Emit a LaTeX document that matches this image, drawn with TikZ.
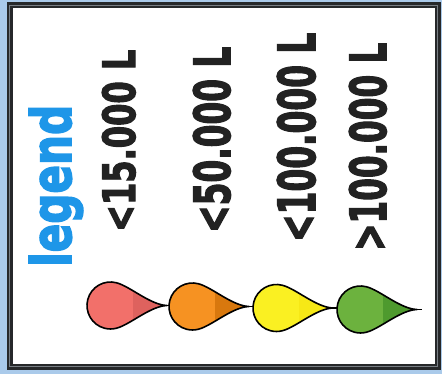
\documentclass[tikz,border=0pt]{standalone}
\usepackage{fontspec}
\setmainfont{DejaVu Sans}
\newfontfamily\heavyfont{DejaVu Sans}[BoldFeatures={FakeBold=3}]
\usepackage{graphicx}
\usepackage{xcolor}
\usepackage{tikz}
\definecolor{sheetblue}{RGB}{170, 202, 234}
\definecolor{framedark}{RGB}{38, 40, 42}
\definecolor{framemid}{RGB}{120, 126, 132}
\definecolor{legendblue}{RGB}{30, 150, 232}
\definecolor{inkgray}{RGB}{34, 34, 34}
\definecolor{pinkfill}{RGB}{242, 112, 106}
\definecolor{pinkdark}{RGB}{222, 98, 94}
\definecolor{orangefill}{RGB}{246, 146, 34}
\definecolor{orangedark}{RGB}{216, 120, 14}
\definecolor{yellowfill}{RGB}{250, 240, 34}
\definecolor{yellowdark}{RGB}{246, 232, 22}
\definecolor{greenfill}{RGB}{108, 178, 62}
\definecolor{greendark}{RGB}{78, 154, 46}

\begin{document}
\begin{tikzpicture}[
  x=1pt, y=1pt,
  qty/.style={
    rotate=90, anchor=base west, inner sep=0pt,
    text=inkgray, font=\heavyfont\bfseries
  },
  title/.style={qty, text=legendblue},
  pics/tankdrop/.style 2 args={code={
    \path[save path=\dropoutline]
      (56.5,0) .. controls (40,0.5) and (19.6,19.1) .. (75:23.5)
      arc[start angle=75, end angle=285, radius=23.5]
      .. controls (19.6,-19.1) and (40,-0.5) .. (56.5,0) -- cycle;
    \fill[#1, use path=\dropoutline];
    \begin{scope}
      \clip[use path=\dropoutline];
      \fill[#2] (22.5,-30) rectangle (60,30);
    \end{scope}
    \draw[line width=1.6pt, line join=round, use path=\dropoutline];
    \draw[line width=1.3pt] (56.5,0) -- (61,0);
  }}
]

  % Sfondo e cornice
  \useasboundingbox (0,0) rectangle (442,374);
  \fill[sheetblue] (0,0) rectangle (442,374);
  \fill[white] (9.5,7) rectangle (437.5,368.5);
  \draw[framedark, line width=6pt] (9.5,7) rectangle (437.5,368.5);
  \draw[framemid, line width=1pt] (9.5,7) rectangle (437.5,368.5);

  % Testi ruotati
  \node[title] (legend) at (71,107) {\resizebox{162pt}{42pt}{legend}};
  \node[qty] (q15) at (135,142) {\resizebox{182pt}{33pt}{<15.000 L}};
  \node[qty] (q50) at (230,141) {\resizebox{186pt}{37pt}{<50.000 L}};
  \node[qty] (q100) at (315,132) {\resizebox{209pt}{38pt}{<100.000 L}};
  \node[qty] (qmore) at (386,123) {\resizebox{208pt}{37pt}{>100.000 L}};

  % Gocce colorate
  \pic (d15) at (110.5,68.5) {tankdrop={pinkfill}{pinkdark}};
  \pic (d50) at (192.5,67.5) {tankdrop={orangefill}{orangedark}};
  \pic (d100) at (276.5,66) {tankdrop={yellowfill}{yellowdark}};
  \pic (dmore) at (360.5,64.5) {tankdrop={greenfill}{greendark}};

\end{tikzpicture}
\end{document}
